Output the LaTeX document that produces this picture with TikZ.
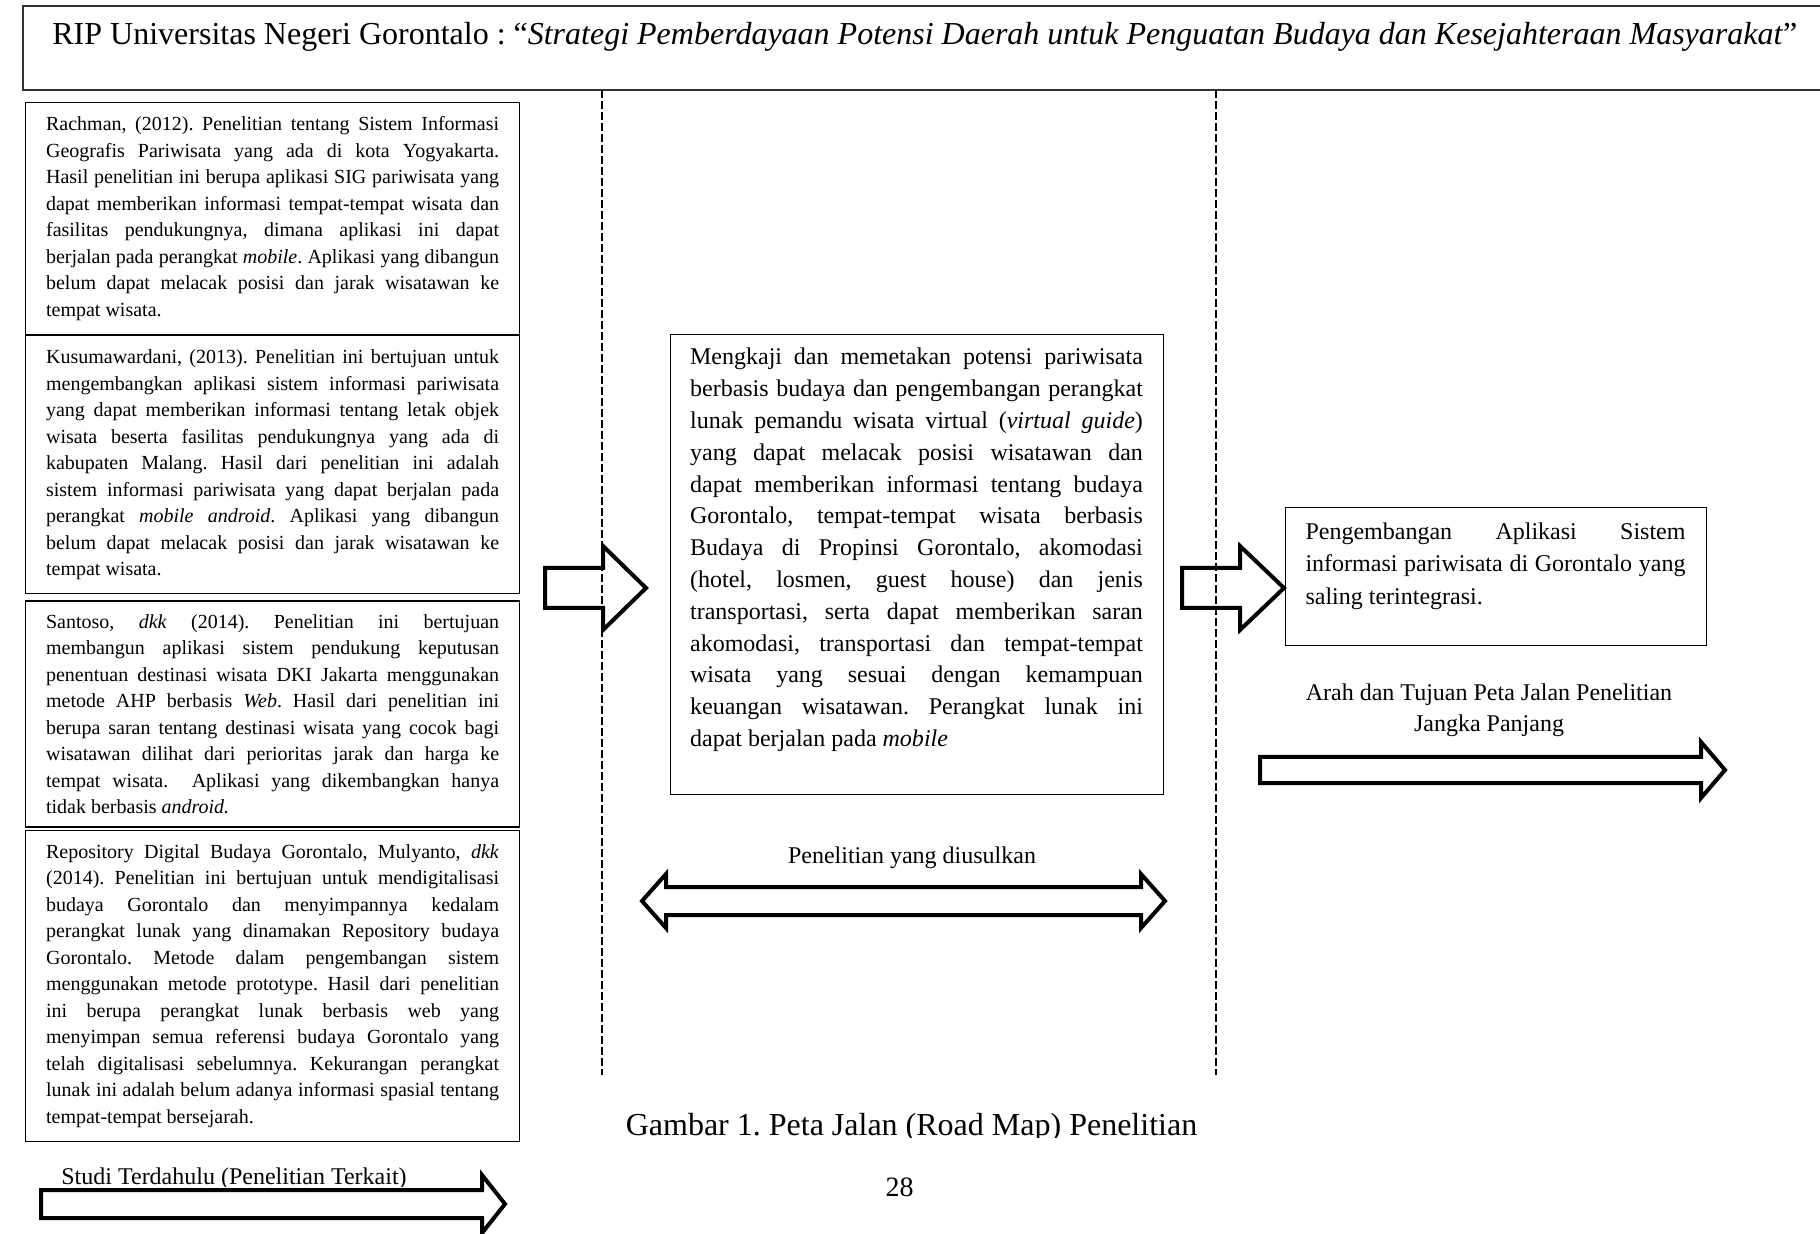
\documentclass[tikz,border=0pt]{standalone}
\usepackage{fontspec}
\setmainfont{Liberation Serif}
\usetikzlibrary{positioning}
\hyphenpenalty=10000
\exhyphenpenalty=10000
\frenchspacing

\begin{document}
\begin{tikzpicture}[x=0.5pt, y=-0.5pt,
    refbox/.style={draw, line width=0.6pt, align=justify, text width=226.5pt,
        inner xsep=10.25pt, inner ysep=2pt, font=\fontsize{10}{13.25}\selectfont},
    planbox/.style={draw, line width=0.6pt},
    plantext/.style={align=justify, inner sep=0pt, font=\fontsize{12}{15.9}\selectfont},
    blockarrow/.style={line width=2pt, line join=miter},
    sepline/.style={line width=1pt, dash pattern=on 4pt off 1.5pt}]

    \useasboundingbox (0,0) rectangle (1820,1234);

    % --- Header ---
    \draw[line width=0.8pt, black!80] (23,6) rectangle (1830,90);
    \node[anchor=base west, inner sep=0pt, font=\fontsize{16}{19}\selectfont] (title) at (52,45)
        {RIP Universitas Negeri Gorontalo : “\textit{Strategi Pemberdayaan Potensi Daerah untuk Penguatan Budaya dan Kesejahteraan Masyarakat}”};

    % --- Column separators ---
    \draw[sepline] (602,90) -- (602,1075);
    \draw[sepline] (1216,90) -- (1216,1075);

    % --- Studi terdahulu (left column) ---
    \node[refbox, anchor=north west, minimum height=116pt] (rachman) at (25,102)
        {Rachman, (2012). Penelitian tentang Sistem Informasi\linebreak
         Geografis Pariwisata yang ada di kota Yogyakarta.\linebreak
         Hasil penelitian ini berupa aplikasi SIG pariwisata yang\linebreak
         dapat memberikan informasi tempat-tempat wisata dan\linebreak
         fasilitas pendukungnya, dimana aplikasi ini dapat\linebreak
         berjalan pada perangkat \textit{mobile}. Aplikasi yang dibangun\linebreak
         belum dapat melacak posisi dan jarak wisatawan ke\linebreak
         tempat wisata.};
    \node[refbox, below=0pt of rachman, minimum height=129pt] (kusuma)
        {Kusumawardani, (2013). Penelitian ini bertujuan untuk\linebreak
         mengembangkan aplikasi sistem informasi pariwisata\linebreak
         yang dapat memberikan informasi tentang letak objek\linebreak
         wisata beserta fasilitas pendukungnya yang ada di\linebreak
         kabupaten Malang. Hasil dari penelitian ini adalah\linebreak
         sistem informasi pariwisata yang dapat berjalan pada\linebreak
         perangkat \textit{mobile android}. Aplikasi yang dibangun\linebreak
         belum dapat melacak posisi dan jarak wisatawan ke\linebreak
         tempat wisata.};
    \node[refbox, below=3pt of kusuma, minimum height=113pt] (santoso)
        {Santoso, \textit{dkk} (2014). Penelitian ini bertujuan\linebreak
         membangun aplikasi sistem pendukung keputusan\linebreak
         penentuan destinasi wisata DKI Jakarta menggunakan\linebreak
         metode AHP berbasis \textit{Web}. Hasil dari penelitian ini\linebreak
         berupa saran tentang destinasi wisata yang cocok bagi\linebreak
         wisatawan dilihat dari perioritas jarak dan harga ke\linebreak
         tempat wisata.\ \ Aplikasi yang dikembangkan hanya\linebreak
         tidak berbasis \textit{android.}};
    \node[refbox, below=1pt of santoso, minimum height=155.5pt] (mulyanto)
        {Repository Digital Budaya Gorontalo, Mulyanto, \textit{dkk}\linebreak
         (2014). Penelitian ini bertujuan untuk mendigitalisasi\linebreak
         budaya Gorontalo dan menyimpannya kedalam\linebreak
         perangkat lunak yang dinamakan Repository budaya\linebreak
         Gorontalo. Metode dalam pengembangan sistem\linebreak
         menggunakan metode prototype. Hasil dari penelitian\linebreak
         ini berupa perangkat lunak berbasis web yang\linebreak
         menyimpan semua referensi budaya Gorontalo yang\linebreak
         telah digitalisasi sebelumnya. Kekurangan perangkat\linebreak
         lunak ini adalah belum adanya informasi spasial tentang\linebreak
         tempat-tempat bersejarah.};

    % --- Penelitian yang diusulkan (middle column) ---
    \node[planbox, anchor=north west, minimum width=246.5pt, minimum height=230pt] (proposal) at (670,334) {};
    \node[plantext, text width=226.4pt] (proposaltext) at (916.5,550)
        {Mengkaji dan memetakan potensi pariwisata\linebreak
         berbasis budaya dan pengembangan perangkat\linebreak
         lunak pemandu wisata virtual (\textit{virtual guide})\linebreak
         yang dapat melacak posisi wisatawan dan\linebreak
         dapat memberikan informasi tentang budaya\linebreak
         Gorontalo, tempat-tempat wisata berbasis\linebreak
         Budaya di Propinsi Gorontalo, akomodasi\linebreak
         (hotel, losmen, guest house) dan jenis\linebreak
         transportasi, serta dapat memberikan saran\linebreak
         akomodasi, transportasi dan tempat-tempat\linebreak
         wisata yang sesuai dengan kemampuan\linebreak
         keuangan wisatawan. Perangkat lunak ini\linebreak
         dapat berjalan pada \textit{mobile}};

    % --- Jangka panjang (right column) ---
    \node[planbox, anchor=north west, minimum width=210.5pt, minimum height=69pt] (goal) at (1285,507) {};
    \node[plantext, text width=190pt, font=\fontsize{12}{16.25}\selectfont] (goaltext) at (1495.5,566)
        {Pengembangan Aplikasi Sistem\linebreak
         informasi pariwisata di Gorontalo yang\linebreak
         saling terintegrasi.};

    % --- Labels ---
    \node[anchor=base, font=\fontsize{12}{15}\selectfont] (proposed) at (912,863) {Penelitian yang diusulkan};
    \node[align=center, font=\fontsize{12}{15.5}\selectfont] (longterm) at (1489,710)
        {Arah dan Tujuan Peta Jalan Penelitian\\Jangka Panjang};
    \begin{scope}
        \clip (0,1150) rectangle (1820,1186);
        \node[anchor=base west, inner sep=0pt, font=\fontsize{12}{15}\selectfont] (prior) at (61,1184) {Studi Terdahulu (Penelitian Terkait)};
    \end{scope}
    \begin{scope}
        \clip (0,1090) rectangle (1820,1137);
        \node[anchor=base, font=\fontsize{16}{19}\selectfont] (caption) at (911.5,1135) {Gambar 1. Peta Jalan (Road Map) Penelitian};
    \end{scope}
    \node[anchor=base, font=\fontsize{14}{17}\selectfont] (page) at (899.5,1196) {28};

    % --- Block arrows ---
    % studies -> proposal
    \draw[blockarrow] (545,568) -- (603,568) -- (603,546) -- (646,588)
        -- (603,630) -- (603,608) -- (545,608) -- cycle;
    % proposal -> goal
    \draw[blockarrow] (1182,568) -- (1240,568) -- (1240,546) -- (1284,588)
        -- (1240,630) -- (1240,608) -- (1182,608) -- cycle;
    % proposed research span
    \draw[blockarrow] (642,901) -- (666,874) -- (666,887) -- (1141,887) -- (1141,874)
        -- (1165,901) -- (1141,928) -- (1141,915) -- (666,915) -- (666,928) -- cycle;
    % long term direction
    \draw[blockarrow] (1260,757) -- (1701,757) -- (1701,742) -- (1725,770)
        -- (1701,798) -- (1701,783) -- (1260,783) -- cycle;
    % previous studies direction
    \draw[blockarrow] (41,1190) -- (482,1190) -- (482,1175) -- (505,1204)
        -- (482,1233) -- (482,1218) -- (41,1218) -- cycle;

\end{tikzpicture}
\end{document}
